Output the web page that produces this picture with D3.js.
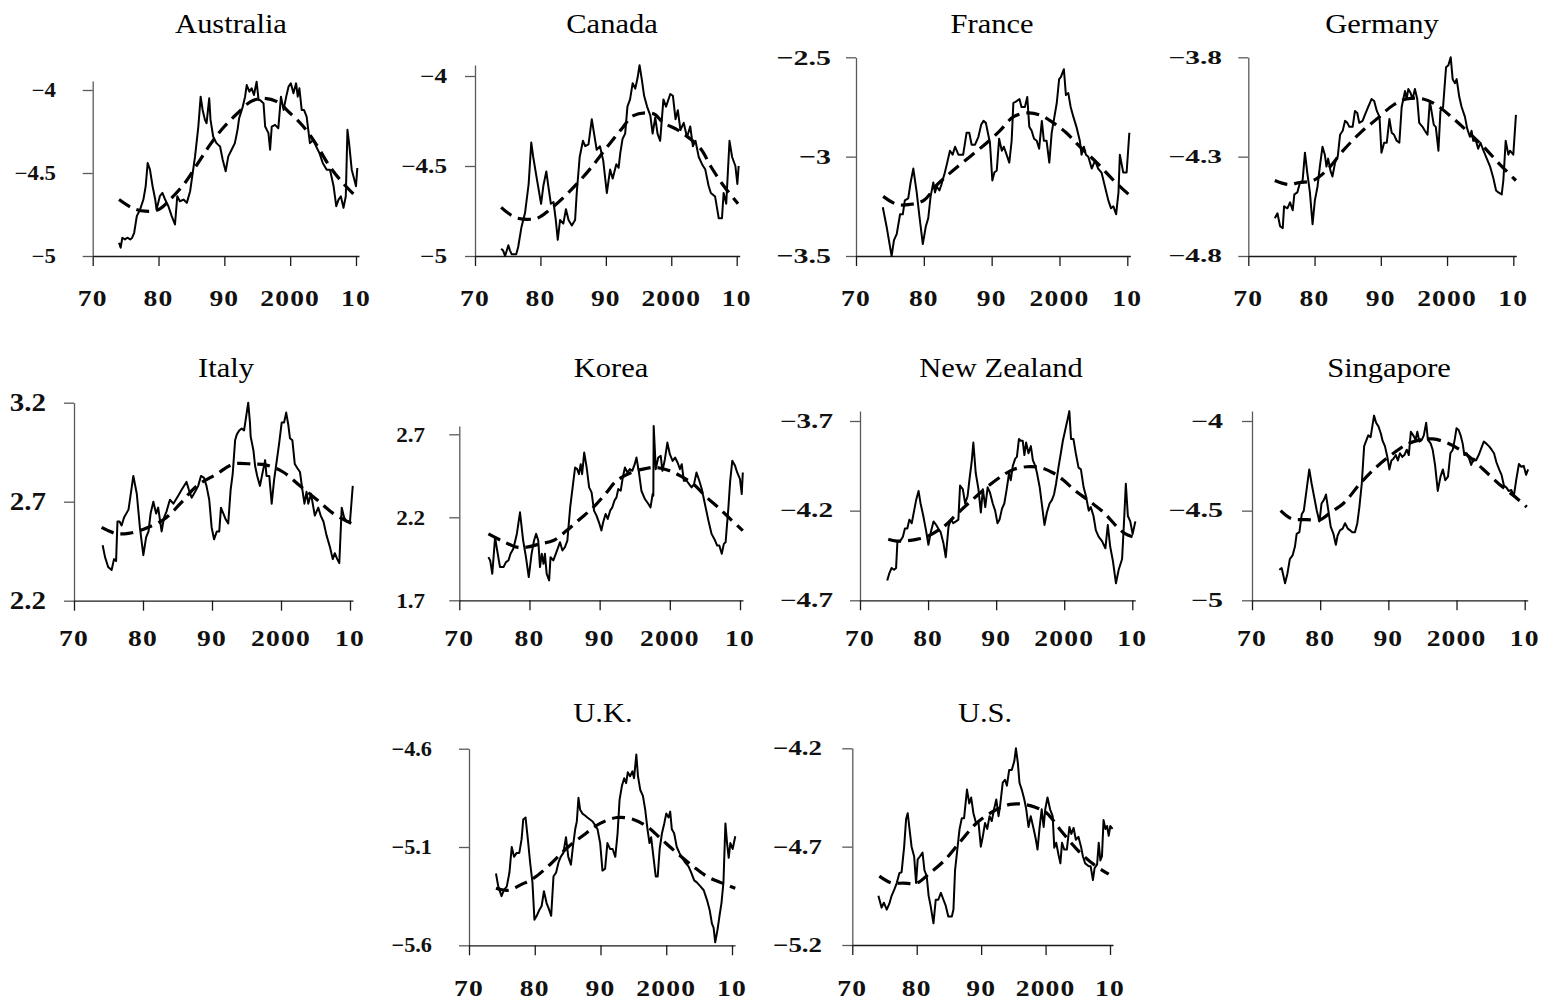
<!DOCTYPE html>
<html>
<head>
<meta charset="utf-8">
<script src="https://cdn.jsdelivr.net/npm/d3@7"></script>
<style>
  html, body { margin: 0; padding: 0; background: #fff; }
  svg { display: block; }
</style>
</head>
<body>
<svg id="chart" width="1547" height="1003"></svg>
<script>
// ---------------- DATA ----------------
const countries = ["Australia", "Canada", "France", "Germany", "Italy", "Korea", "New Zealand", "Singapore", "U.K.", "U.S."];
const xTickYears = [1970, 1980, 1990, 2000, 2010];
const xTickLabels = ["70", "80", "90", "2000", "10"];

const australiaTicks = [-5, -4.5, -4];
const canadaTicks = [-5, -4.5, -4];
const franceTicks = [-3.5, -3, -2.5];
const germanyTicks = [-4.8, -4.3, -3.8];
const italyTicks = [2.2, 2.7, 3.2];
const koreaTicks = [1.7, 2.2, 2.7];
const newZealandTicks = [-4.7, -4.2, -3.7];
const singaporeTicks = [-5, -4.5, -4];
const ukTicks = [-5.6, -5.1, -4.6];
const usTicks = [-5.2, -4.7, -4.2];

const australiaActual = [[1974.0,-4.92],[1974.25,-4.95],[1974.5,-4.89],[1974.9,-4.90],[1975.25,-4.89],[1975.7,-4.90],[1976.0,-4.89],[1976.3,-4.86],[1976.7,-4.76],[1977.2,-4.72],[1977.7,-4.66],[1978.05,-4.58],[1978.35,-4.44],[1978.7,-4.48],[1979.1,-4.58],[1979.5,-4.66],[1979.7,-4.72],[1980.2,-4.64],[1980.6,-4.62],[1981.0,-4.66],[1981.5,-4.70],[1982.0,-4.76],[1982.5,-4.81],[1982.85,-4.64],[1983.25,-4.67],[1983.8,-4.66],[1984.3,-4.68],[1984.8,-4.61],[1985.05,-4.54],[1985.55,-4.40],[1986.05,-4.22],[1986.4,-4.04],[1986.7,-4.12],[1987.05,-4.18],[1987.3,-4.20],[1987.7,-4.05],[1987.9,-4.18],[1988.3,-4.28],[1988.8,-4.32],[1989.35,-4.34],[1989.75,-4.42],[1990.2,-4.49],[1990.6,-4.40],[1991.1,-4.36],[1991.6,-4.32],[1992.0,-4.24],[1992.25,-4.17],[1992.8,-4.10],[1993.15,-4.04],[1993.4,-3.97],[1993.8,-4.01],[1994.15,-3.99],[1994.5,-4.03],[1994.9,-3.95],[1995.2,-4.06],[1995.4,-4.06],[1995.95,-4.08],[1996.2,-4.22],[1996.7,-4.26],[1996.95,-4.36],[1997.2,-4.22],[1997.7,-4.21],[1998.2,-4.23],[1998.6,-4.04],[1999.0,-4.12],[1999.4,-4.04],[1999.75,-3.98],[2000.1,-3.96],[2000.5,-4.02],[2000.9,-3.96],[2001.15,-4.04],[2001.4,-3.99],[2001.75,-4.12],[2002.1,-4.12],[2002.5,-4.16],[2003.0,-4.32],[2003.55,-4.30],[2003.95,-4.34],[2004.45,-4.38],[2004.95,-4.44],[2005.55,-4.48],[2006.05,-4.48],[2006.6,-4.58],[2007.0,-4.70],[2007.35,-4.66],[2007.7,-4.64],[2008.1,-4.71],[2008.45,-4.64],[2008.7,-4.24],[2008.95,-4.32],[2009.35,-4.48],[2009.75,-4.54],[2010.0,-4.58],[2010.2,-4.47]];
const australiaTrend = [[1974,-4.66],[1976,-4.71],[1978,-4.73],[1980,-4.72],[1982,-4.65],[1984,-4.56],[1986,-4.44],[1988,-4.32],[1990,-4.22],[1992,-4.14],[1994,-4.07],[1996,-4.05],[1998,-4.07],[2000,-4.14],[2002,-4.22],[2004,-4.33],[2006,-4.46],[2008,-4.56],[2010.2,-4.65]];

const canadaActual = [[1974.0,-4.96],[1974.3,-4.97],[1974.6,-5.00],[1975.1,-4.94],[1975.35,-4.97],[1975.6,-4.99],[1976.3,-4.99],[1976.6,-4.95],[1977.1,-4.84],[1977.65,-4.76],[1978.2,-4.60],[1978.6,-4.37],[1978.9,-4.45],[1979.4,-4.56],[1980.1,-4.71],[1980.45,-4.61],[1980.9,-4.53],[1981.2,-4.61],[1981.6,-4.71],[1982.0,-4.70],[1982.35,-4.80],[1982.65,-4.91],[1983.0,-4.80],[1983.5,-4.82],[1983.9,-4.74],[1984.3,-4.80],[1984.8,-4.83],[1985.3,-4.80],[1985.55,-4.65],[1986.0,-4.45],[1986.5,-4.36],[1986.85,-4.39],[1987.35,-4.38],[1987.85,-4.24],[1988.2,-4.32],[1988.6,-4.41],[1989.1,-4.39],[1989.6,-4.47],[1990.15,-4.65],[1990.65,-4.52],[1991.05,-4.57],[1991.6,-4.49],[1991.95,-4.51],[1992.2,-4.43],[1992.55,-4.35],[1992.95,-4.32],[1993.3,-4.17],[1993.7,-4.13],[1994.1,-4.04],[1994.5,-4.07],[1994.85,-4.01],[1995.15,-3.94],[1995.5,-4.02],[1995.85,-4.11],[1996.3,-4.17],[1996.8,-4.22],[1997.15,-4.32],[1997.55,-4.23],[1997.9,-4.32],[1998.3,-4.36],[1998.8,-4.13],[1999.2,-4.17],[1999.85,-4.10],[2000.25,-4.11],[2000.65,-4.24],[2001.0,-4.19],[2001.4,-4.30],[2001.9,-4.26],[2002.4,-4.34],[2002.9,-4.28],[2003.3,-4.39],[2003.7,-4.36],[2004.2,-4.45],[2004.7,-4.49],[2005.2,-4.52],[2005.7,-4.61],[2006.05,-4.65],[2006.7,-4.67],[2007.25,-4.79],[2007.75,-4.79],[2008.0,-4.65],[2008.4,-4.71],[2008.9,-4.36],[2009.3,-4.45],[2009.8,-4.50],[2010.1,-4.60],[2010.3,-4.50]];
const canadaTrend = [[1974,-4.73],[1975,-4.76],[1976.5,-4.79],[1979.5,-4.79],[1981.5,-4.74],[1984.5,-4.64],[1987.5,-4.52],[1990.5,-4.38],[1992.5,-4.29],[1994.2,-4.22],[1997.3,-4.21],[1998.8,-4.26],[2001,-4.30],[2004.4,-4.40],[2006,-4.50],[2008,-4.61],[2010.2,-4.71]];

const franceActual = [[1973.95,-3.255],[1974.5,-3.35],[1975.0,-3.45],[1975.25,-3.50],[1975.6,-3.42],[1976.0,-3.39],[1976.5,-3.29],[1976.9,-3.29],[1977.2,-3.22],[1977.7,-3.21],[1978.05,-3.13],[1978.45,-3.06],[1978.95,-3.18],[1979.35,-3.30],[1979.85,-3.44],[1980.3,-3.35],[1980.65,-3.31],[1981.0,-3.20],[1981.4,-3.13],[1981.65,-3.18],[1981.9,-3.15],[1982.3,-3.17],[1982.6,-3.14],[1983.1,-3.08],[1983.45,-3.03],[1983.85,-2.97],[1984.25,-2.99],[1984.6,-2.95],[1985.1,-2.99],[1985.8,-2.99],[1986.3,-2.88],[1986.7,-2.88],[1987.05,-2.94],[1987.55,-2.94],[1988.05,-2.90],[1988.45,-2.84],[1988.8,-2.82],[1989.15,-2.83],[1989.5,-2.89],[1989.75,-2.93],[1990.1,-3.12],[1990.4,-3.08],[1990.75,-3.07],[1991.1,-2.91],[1991.5,-2.97],[1991.8,-2.95],[1992.2,-2.99],[1992.6,-3.03],[1992.95,-2.92],[1993.2,-2.73],[1993.7,-2.72],[1994.1,-2.71],[1994.4,-2.75],[1994.9,-2.75],[1995.25,-2.70],[1995.55,-2.85],[1995.9,-2.87],[1996.25,-2.91],[1996.65,-2.92],[1997.0,-2.96],[1997.4,-2.82],[1997.7,-2.92],[1998.1,-2.92],[1998.5,-3.03],[1998.85,-2.88],[1999.2,-2.81],[1999.6,-2.73],[1999.95,-2.61],[2000.2,-2.60],[2000.65,-2.56],[2000.95,-2.69],[2001.3,-2.68],[2001.65,-2.75],[2002.05,-2.80],[2002.5,-2.85],[2003.0,-2.92],[2003.25,-2.99],[2003.6,-2.95],[2003.9,-2.99],[2004.25,-3.00],[2004.75,-3.06],[2005.25,-3.02],[2005.7,-3.06],[2006.2,-3.08],[2006.7,-3.15],[2007.2,-3.22],[2007.6,-3.26],[2007.95,-3.25],[2008.35,-3.29],[2008.7,-3.18],[2008.9,-2.99],[2009.4,-3.08],[2009.9,-3.08],[2010.3,-2.88]];
const franceTrend = [[1974,-3.20],[1976,-3.24],[1978,-3.24],[1980,-3.22],[1982,-3.14],[1984.3,-3.07],[1986.8,-3.00],[1989.3,-2.93],[1991.2,-2.87],[1993.2,-2.80],[1995.2,-2.78],[1997.1,-2.79],[1999.1,-2.83],[2001,-2.88],[2003,-2.95],[2005.5,-3.03],[2008,-3.12],[2010.2,-3.19]];

const germanyActual = [[1974.0,-4.61],[1974.4,-4.585],[1974.8,-4.65],[1975.2,-4.66],[1975.4,-4.55],[1975.9,-4.56],[1976.3,-4.53],[1976.7,-4.57],[1976.95,-4.49],[1977.4,-4.48],[1977.8,-4.43],[1978.2,-4.42],[1978.55,-4.28],[1978.9,-4.38],[1979.3,-4.48],[1979.7,-4.64],[1980.05,-4.52],[1980.45,-4.45],[1980.8,-4.35],[1981.2,-4.25],[1981.55,-4.29],[1981.8,-4.35],[1982.05,-4.31],[1982.4,-4.37],[1982.7,-4.40],[1983.1,-4.33],[1983.5,-4.30],[1983.85,-4.19],[1984.25,-4.17],[1984.6,-4.12],[1984.95,-4.13],[1985.25,-4.15],[1985.75,-4.15],[1986.1,-4.07],[1986.45,-4.08],[1986.75,-4.13],[1987.25,-4.12],[1987.6,-4.09],[1988.1,-4.05],[1988.6,-4.01],[1989.0,-4.02],[1989.4,-4.07],[1989.8,-4.10],[1990.1,-4.28],[1990.5,-4.23],[1990.9,-4.23],[1991.3,-4.11],[1991.65,-4.18],[1992.0,-4.19],[1992.4,-4.22],[1992.8,-4.23],[1993.15,-4.05],[1993.4,-4.01],[1993.65,-3.97],[1993.9,-4.01],[1994.15,-3.96],[1994.5,-3.98],[1994.8,-4.01],[1995.15,-3.96],[1995.5,-4.01],[1995.8,-4.13],[1996.3,-4.15],[1996.65,-4.17],[1997.05,-4.19],[1997.4,-4.02],[1997.65,-4.07],[1998.0,-4.14],[1998.3,-4.15],[1998.7,-4.27],[1999.0,-4.07],[1999.4,-4.05],[1999.85,-3.85],[2000.2,-3.84],[2000.55,-3.80],[2000.85,-3.91],[2001.2,-3.93],[2001.45,-3.91],[2001.85,-4.00],[2002.2,-4.05],[2002.7,-4.10],[2003.05,-4.16],[2003.45,-4.20],[2003.7,-4.17],[2003.95,-4.22],[2004.35,-4.22],[2004.7,-4.26],[2005.05,-4.23],[2005.5,-4.27],[2006.0,-4.31],[2006.5,-4.35],[2007.0,-4.41],[2007.4,-4.47],[2007.75,-4.48],[2008.25,-4.49],[2008.5,-4.42],[2008.85,-4.22],[2009.25,-4.29],[2009.5,-4.27],[2010.0,-4.29],[2010.4,-4.09]];
const germanyTrend = [[1974,-4.42],[1976,-4.44],[1977.8,-4.43],[1979.8,-4.42],[1981.8,-4.37],[1984.3,-4.27],[1986.9,-4.18],[1989.4,-4.11],[1991.9,-4.04],[1993.9,-4.01],[1996.4,-4.01],[1998.4,-4.04],[2001,-4.11],[2003,-4.17],[2005.5,-4.25],[2008,-4.34],[2010.4,-4.42]];

const italyActual = [[1974.15,2.48],[1974.5,2.42],[1974.95,2.37],[1975.45,2.355],[1975.8,2.41],[1976.1,2.40],[1976.3,2.60],[1976.6,2.60],[1976.9,2.58],[1977.25,2.62],[1977.9,2.66],[1978.6,2.83],[1979.1,2.74],[1979.55,2.57],[1980.05,2.43],[1980.45,2.52],[1980.8,2.55],[1981.1,2.64],[1981.5,2.70],[1981.9,2.64],[1982.2,2.67],[1982.7,2.55],[1983.05,2.62],[1983.4,2.65],[1983.9,2.71],[1984.4,2.69],[1984.75,2.71],[1985.1,2.73],[1985.6,2.76],[1986.3,2.80],[1986.65,2.76],[1987.05,2.72],[1987.55,2.75],[1988.0,2.78],[1988.4,2.83],[1988.85,2.82],[1989.2,2.78],[1989.6,2.71],[1989.95,2.57],[1990.3,2.51],[1990.7,2.55],[1991.05,2.55],[1991.3,2.67],[1991.65,2.64],[1992.0,2.61],[1992.35,2.59],[1992.7,2.76],[1993.0,2.84],[1993.35,3.01],[1993.6,3.04],[1993.95,3.06],[1994.3,3.07],[1994.65,3.06],[1994.95,3.13],[1995.25,3.20],[1995.5,3.10],[1995.6,3.03],[1996.0,2.96],[1996.25,2.88],[1996.55,2.83],[1996.95,2.78],[1997.35,2.85],[1997.7,2.91],[1997.9,2.83],[1998.3,2.83],[1998.65,2.69],[1999.0,2.81],[1999.4,2.91],[1999.75,3.00],[2000.1,3.10],[2000.45,3.10],[2000.75,3.15],[2001.05,3.09],[2001.3,3.02],[2001.65,3.01],[2002.0,2.89],[2002.35,2.87],[2002.75,2.85],[2003.1,2.76],[2003.4,2.69],[2003.7,2.75],[2003.95,2.69],[2004.35,2.74],[2004.7,2.67],[2004.9,2.63],[2005.4,2.67],[2005.75,2.63],[2006.15,2.60],[2006.6,2.53],[2007.1,2.47],[2007.5,2.41],[2007.8,2.44],[2008.15,2.41],[2008.45,2.39],[2008.8,2.67],[2009.15,2.62],[2009.5,2.60],[2010.0,2.60],[2010.4,2.78]];
const italyTrend = [[1974,2.57],[1976,2.54],[1977.9,2.54],[1980,2.56],[1983,2.61],[1985.4,2.69],[1987.8,2.78],[1990.7,2.84],[1993.1,2.89],[1996,2.89],[1997.9,2.885],[2000.3,2.85],[2002.75,2.78],[2005.2,2.71],[2007.6,2.64],[2010.2,2.59]];

const koreaActual = [[1974.15,1.96],[1974.4,1.94],[1974.7,1.86],[1975.1,2.08],[1975.4,2.00],[1975.8,1.90],[1976.3,1.90],[1976.65,1.93],[1977.0,1.94],[1977.3,1.98],[1977.7,2.01],[1978.2,2.10],[1978.65,2.23],[1979.1,2.06],[1979.5,1.96],[1979.9,1.84],[1980.3,1.98],[1980.65,2.06],[1980.95,2.10],[1981.25,2.06],[1981.5,1.90],[1981.75,1.98],[1982.0,1.92],[1982.2,1.98],[1982.45,1.86],[1982.8,1.82],[1983.0,1.96],[1983.4,1.94],[1983.75,1.98],[1984.1,2.02],[1984.35,2.05],[1984.7,2.00],[1985.05,2.02],[1985.4,2.06],[1985.8,2.26],[1986.15,2.38],[1986.5,2.50],[1986.8,2.49],[1987.05,2.46],[1987.3,2.52],[1987.5,2.46],[1987.8,2.59],[1988.15,2.50],[1988.5,2.38],[1988.85,2.35],[1989.2,2.24],[1989.55,2.21],[1989.9,2.17],[1990.25,2.12],[1990.5,2.17],[1990.85,2.22],[1991.15,2.19],[1991.5,2.24],[1991.8,2.26],[1992.1,2.30],[1992.4,2.32],[1992.65,2.37],[1993.0,2.36],[1993.3,2.44],[1993.6,2.50],[1993.95,2.47],[1994.3,2.49],[1994.65,2.48],[1995.0,2.52],[1995.25,2.56],[1995.6,2.47],[1995.95,2.36],[1996.45,2.31],[1996.95,2.28],[1997.25,2.26],[1997.55,2.34],[1997.65,2.33],[1997.7,2.75],[1998.0,2.49],[1998.35,2.56],[1998.7,2.57],[1998.95,2.48],[1999.3,2.55],[1999.65,2.65],[2000.0,2.58],[2000.4,2.54],[2000.75,2.56],[2001.1,2.53],[2001.45,2.49],[2001.7,2.52],[2002.0,2.42],[2002.4,2.42],[2002.75,2.40],[2003.1,2.38],[2003.45,2.40],[2003.8,2.47],[2004.2,2.42],[2004.55,2.37],[2005.0,2.28],[2005.5,2.18],[2005.95,2.10],[2006.45,2.06],[2006.75,2.03],[2007.05,2.03],[2007.4,1.98],[2007.7,2.04],[2007.95,2.05],[2008.35,2.26],[2008.6,2.42],[2008.9,2.54],[2009.3,2.51],[2009.6,2.47],[2010.0,2.43],[2010.25,2.34],[2010.4,2.47]];
const koreaTrend = [[1974.15,2.10],[1976,2.06],[1978.2,2.02],[1979.6,2.02],[1981.5,2.04],[1983.4,2.06],[1985.3,2.12],[1987.2,2.19],[1989.1,2.26],[1991,2.35],[1992.4,2.42],[1994.8,2.475],[1996.7,2.495],[1998.1,2.50],[2000,2.48],[2001.5,2.45],[2003.35,2.40],[2005.25,2.32],[2007.15,2.25],[2008.6,2.19],[2010.4,2.12]];

const newZealandActual = [[1974.0,-4.59],[1974.3,-4.55],[1974.65,-4.52],[1975.0,-4.53],[1975.3,-4.52],[1975.5,-4.37],[1975.9,-4.37],[1976.3,-4.345],[1976.6,-4.30],[1976.95,-4.30],[1977.25,-4.25],[1977.6,-4.27],[1977.95,-4.20],[1978.25,-4.14],[1978.6,-4.09],[1978.9,-4.16],[1979.3,-4.23],[1979.7,-4.31],[1980.05,-4.39],[1980.4,-4.32],[1980.8,-4.26],[1981.2,-4.28],[1981.5,-4.30],[1981.85,-4.32],[1982.25,-4.38],[1982.6,-4.46],[1983.0,-4.29],[1983.35,-4.25],[1983.7,-4.27],[1984.1,-4.26],[1984.45,-4.25],[1984.7,-4.06],[1985.1,-4.08],[1985.45,-4.16],[1985.8,-4.12],[1986.1,-4.02],[1986.4,-3.93],[1986.65,-3.82],[1987.0,-3.99],[1987.4,-4.08],[1987.75,-4.21],[1988.05,-4.08],[1988.4,-4.18],[1988.75,-4.07],[1989.1,-4.10],[1989.5,-4.16],[1989.85,-4.20],[1990.2,-4.27],[1990.5,-4.25],[1990.85,-4.19],[1991.2,-4.16],[1991.55,-4.08],[1991.9,-3.99],[1992.15,-4.03],[1992.45,-3.95],[1992.8,-3.91],[1993.05,-3.90],[1993.35,-3.80],[1993.6,-3.81],[1993.9,-3.81],[1994.15,-3.89],[1994.4,-3.82],[1994.75,-3.88],[1995.1,-3.84],[1995.4,-3.92],[1995.75,-3.95],[1996.0,-3.99],[1996.4,-4.07],[1996.7,-4.16],[1997.1,-4.28],[1997.45,-4.21],[1997.85,-4.16],[1998.2,-4.14],[1998.5,-4.11],[1998.8,-4.05],[1999.15,-3.96],[1999.5,-3.88],[1999.8,-3.81],[2000.15,-3.75],[2000.5,-3.69],[2000.75,-3.645],[2001.0,-3.80],[2001.35,-3.80],[2001.7,-3.88],[2002.1,-3.96],[2002.45,-3.97],[2002.85,-4.07],[2003.2,-4.12],[2003.6,-4.20],[2003.9,-4.18],[2004.3,-4.23],[2004.65,-4.31],[2005.05,-4.345],[2005.55,-4.37],[2006.05,-4.41],[2006.4,-4.28],[2006.75,-4.40],[2007.15,-4.48],[2007.6,-4.605],[2008.0,-4.53],[2008.5,-4.47],[2008.8,-4.25],[2009.05,-4.05],[2009.35,-4.23],[2009.7,-4.26],[2010.05,-4.33],[2010.45,-4.26]];
const newZealandTrend = [[1974.15,-4.36],[1975.4,-4.37],[1978.3,-4.36],[1979.8,-4.345],[1982.25,-4.29],[1984.2,-4.22],[1986.2,-4.15],[1988.6,-4.07],[1991.1,-4.00],[1992.55,-3.97],[1994.5,-3.955],[1996.5,-3.96],[1998.4,-3.99],[1999.9,-4.03],[2001.35,-4.08],[2003.8,-4.15],[2005.8,-4.21],[2007.75,-4.29],[2009,-4.33],[2010.4,-4.35]];

const singaporeActual = [[1974.0,-4.83],[1974.35,-4.82],[1974.85,-4.905],[1975.2,-4.85],[1975.55,-4.77],[1975.95,-4.75],[1976.3,-4.70],[1976.55,-4.63],[1976.95,-4.62],[1977.3,-4.52],[1977.6,-4.50],[1978.0,-4.385],[1978.4,-4.27],[1978.75,-4.35],[1979.1,-4.42],[1979.5,-4.50],[1979.9,-4.56],[1980.2,-4.46],[1980.55,-4.44],[1980.85,-4.41],[1981.2,-4.50],[1981.55,-4.59],[1981.95,-4.63],[1982.3,-4.69],[1982.55,-4.64],[1982.9,-4.61],[1983.3,-4.60],[1983.65,-4.57],[1984.05,-4.60],[1984.4,-4.61],[1984.7,-4.62],[1985.1,-4.62],[1985.45,-4.57],[1985.75,-4.48],[1986.1,-4.35],[1986.45,-4.14],[1986.7,-4.115],[1987.05,-4.08],[1987.4,-4.09],[1987.9,-3.97],[1988.2,-4.01],[1988.55,-4.03],[1988.9,-4.07],[1989.15,-4.11],[1989.5,-4.14],[1989.85,-4.20],[1990.15,-4.27],[1990.45,-4.22],[1990.75,-4.21],[1991.1,-4.19],[1991.4,-4.22],[1991.7,-4.18],[1992.05,-4.20],[1992.35,-4.19],[1992.7,-4.16],[1993.0,-4.19],[1993.3,-4.06],[1993.65,-4.08],[1994.0,-4.105],[1994.25,-4.06],[1994.55,-4.115],[1994.9,-4.105],[1995.2,-4.08],[1995.55,-4.01],[1995.8,-4.105],[1996.2,-4.125],[1996.5,-4.16],[1996.85,-4.245],[1997.25,-4.39],[1997.65,-4.31],[1998.0,-4.27],[1998.35,-4.33],[1998.75,-4.31],[1999.1,-4.18],[1999.45,-4.16],[1999.75,-4.10],[2000.0,-4.04],[2000.3,-4.05],[2000.6,-4.08],[2000.9,-4.125],[2001.15,-4.19],[2001.5,-4.18],[2001.85,-4.21],[2002.15,-4.245],[2002.5,-4.21],[2002.85,-4.22],[2003.25,-4.19],[2003.65,-4.15],[2004.0,-4.115],[2004.35,-4.125],[2004.75,-4.14],[2005.15,-4.16],[2005.5,-4.18],[2005.85,-4.23],[2006.25,-4.27],[2006.6,-4.30],[2006.95,-4.36],[2007.3,-4.37],[2007.65,-4.39],[2008.05,-4.385],[2008.4,-4.42],[2008.75,-4.33],[2009.15,-4.24],[2009.5,-4.255],[2009.85,-4.25],[2010.2,-4.30],[2010.5,-4.27]];
const singaporeTrend = [[1974.2,-4.50],[1975.8,-4.545],[1978.0,-4.55],[1980.0,-4.55],[1981.7,-4.505],[1983.4,-4.46],[1985.85,-4.35],[1988.3,-4.255],[1990.75,-4.18],[1992.7,-4.13],[1994.65,-4.105],[1996.5,-4.10],[1998.5,-4.12],[2000.5,-4.16],[2002.5,-4.22],[2004.5,-4.29],[2006.5,-4.36],[2008.5,-4.42],[2010.3,-4.48]];

const ukActual = [[1974.1,-5.235],[1974.45,-5.30],[1974.95,-5.35],[1975.3,-5.32],[1975.75,-5.30],[1976.15,-5.23],[1976.5,-5.10],[1976.85,-5.15],[1977.25,-5.13],[1977.65,-5.13],[1978.0,-5.06],[1978.25,-4.96],[1978.6,-4.95],[1978.95,-5.06],[1979.3,-5.18],[1979.65,-5.28],[1979.95,-5.47],[1980.3,-5.45],[1980.7,-5.42],[1981.05,-5.40],[1981.4,-5.325],[1981.8,-5.385],[1982.2,-5.42],[1982.5,-5.45],[1982.85,-5.25],[1983.25,-5.23],[1983.6,-5.18],[1983.95,-5.15],[1984.35,-5.13],[1984.75,-5.05],[1985.1,-5.15],[1985.5,-5.19],[1985.8,-5.10],[1986.15,-5.01],[1986.4,-4.97],[1986.65,-4.85],[1986.9,-4.91],[1987.25,-4.93],[1987.65,-4.94],[1988.0,-4.95],[1988.4,-4.96],[1988.8,-4.97],[1989.2,-4.99],[1989.55,-5.01],[1989.95,-5.08],[1990.3,-5.22],[1990.7,-5.21],[1991.05,-5.08],[1991.45,-5.11],[1991.85,-5.11],[1992.25,-5.15],[1992.6,-5.03],[1992.9,-4.86],[1993.25,-4.79],[1993.6,-4.75],[1993.9,-4.775],[1994.15,-4.72],[1994.5,-4.74],[1994.85,-4.715],[1995.1,-4.75],[1995.45,-4.63],[1995.7,-4.74],[1996.05,-4.81],[1996.45,-4.84],[1996.8,-4.91],[1997.15,-5.01],[1997.45,-5.08],[1997.7,-5.05],[1998.05,-5.15],[1998.4,-5.25],[1998.7,-5.25],[1999.0,-5.11],[1999.35,-5.03],[1999.7,-4.98],[2000.0,-4.93],[2000.35,-4.95],[2000.6,-4.92],[2000.85,-5.01],[2001.2,-5.03],[2001.6,-5.10],[2002.0,-5.13],[2002.4,-5.155],[2002.9,-5.18],[2003.4,-5.20],[2003.8,-5.23],[2004.25,-5.27],[2004.65,-5.28],[2005.2,-5.30],[2005.7,-5.32],[2006.2,-5.37],[2006.6,-5.42],[2006.95,-5.49],[2007.2,-5.51],[2007.45,-5.585],[2007.8,-5.52],[2008.1,-5.45],[2008.4,-5.385],[2008.7,-5.28],[2009.0,-4.98],[2009.25,-5.08],[2009.5,-5.155],[2009.75,-5.08],[2010.1,-5.11],[2010.5,-5.045]];
const ukTrend = [[1974.1,-5.31],[1976,-5.32],[1978,-5.29],[1979.8,-5.26],[1982.3,-5.19],[1984.9,-5.105],[1987.4,-5.04],[1989.95,-4.98],[1992.5,-4.95],[1995,-4.96],[1997.05,-4.995],[1999.1,-5.055],[2001.6,-5.13],[2004.15,-5.20],[2006.2,-5.25],[2008.2,-5.28],[2010.5,-5.31]];

const usActual = [[1974.05,-4.95],[1974.55,-5.01],[1974.9,-4.985],[1975.35,-5.02],[1975.75,-4.99],[1976.1,-4.95],[1976.5,-4.92],[1976.9,-4.885],[1977.3,-4.835],[1977.65,-4.83],[1978.05,-4.70],[1978.35,-4.56],[1978.6,-4.53],[1978.95,-4.63],[1979.2,-4.70],[1979.6,-4.75],[1979.9,-4.885],[1980.15,-4.765],[1980.5,-4.75],[1980.9,-4.73],[1981.2,-4.82],[1981.55,-4.85],[1981.85,-4.95],[1982.15,-5.00],[1982.6,-5.09],[1982.95,-4.97],[1983.35,-4.97],[1983.75,-4.935],[1984.15,-4.97],[1984.5,-5.00],[1984.9,-5.055],[1985.45,-5.055],[1985.7,-5.02],[1985.95,-4.82],[1986.3,-4.715],[1986.65,-4.61],[1987.0,-4.555],[1987.35,-4.555],[1987.8,-4.41],[1988.15,-4.48],[1988.45,-4.45],[1988.8,-4.53],[1989.2,-4.58],[1989.6,-4.58],[1989.95,-4.70],[1990.25,-4.65],[1990.6,-4.58],[1990.95,-4.61],[1991.3,-4.545],[1991.65,-4.57],[1992.0,-4.51],[1992.35,-4.46],[1992.7,-4.545],[1992.95,-4.49],[1993.35,-4.375],[1993.7,-4.36],[1994.0,-4.39],[1994.35,-4.31],[1994.75,-4.31],[1995.15,-4.265],[1995.4,-4.20],[1995.7,-4.275],[1995.95,-4.375],[1996.3,-4.41],[1996.7,-4.46],[1997.0,-4.51],[1997.35,-4.60],[1997.7,-4.545],[1998.15,-4.61],[1998.5,-4.665],[1998.75,-4.715],[1999.05,-4.61],[1999.4,-4.51],[1999.7,-4.60],[1999.95,-4.51],[2000.3,-4.45],[2000.7,-4.51],[2001.1,-4.545],[2001.35,-4.705],[2001.65,-4.68],[2002.0,-4.74],[2002.3,-4.785],[2002.55,-4.68],[2002.9,-4.715],[2003.3,-4.715],[2003.7,-4.60],[2004.0,-4.635],[2004.35,-4.605],[2004.7,-4.665],[2005.1,-4.65],[2005.5,-4.70],[2005.8,-4.75],[2006.15,-4.785],[2006.7,-4.80],[2007.0,-4.80],[2007.35,-4.87],[2007.6,-4.81],[2008.0,-4.79],[2008.25,-4.68],[2008.5,-4.77],[2008.75,-4.75],[2009.0,-4.565],[2009.3,-4.61],[2009.55,-4.595],[2009.8,-4.645],[2010.05,-4.595],[2010.4,-4.61]];
const usTrend = [[1974.2,-4.85],[1976.1,-4.885],[1977.9,-4.885],[1980,-4.885],[1982,-4.835],[1984.15,-4.775],[1986.75,-4.675],[1989.3,-4.58],[1991.9,-4.52],[1994.5,-4.485],[1996.6,-4.485],[1998.4,-4.50],[2000.2,-4.53],[2002.3,-4.615],[2004.9,-4.715],[2007.45,-4.79],[2009.8,-4.84]];

const actualSeries = [australiaActual, canadaActual, franceActual, germanyActual, italyActual, koreaActual, newZealandActual, singaporeActual, ukActual, usActual];
const trendSeries = [australiaTrend, canadaTrend, franceTrend, germanyTrend, italyTrend, koreaTrend, newZealandTrend, singaporeTrend, ukTrend, usTrend];
const tickSeries = [australiaTicks, canadaTicks, franceTicks, germanyTicks, italyTicks, koreaTicks, newZealandTicks, singaporeTicks, ukTicks, usTicks];

// ---------------- LAYOUT (pixel geometry of each panel) ----------------
const layout = [
  {left:92.7,  right:356,    bottom:256,   topTick:90,    axisTop:81,    labelRight:56,   fs:20, sx:1.14, titleX:231,  titleY:33,  xlabY:306},
  {left:475,   right:736.7,  bottom:256,   topTick:76,    axisTop:65,    labelRight:447,  fs:20, sx:1.26, titleX:612,  titleY:33,  xlabY:306},
  {left:856,   right:1127.3, bottom:256,   topTick:57.3,  axisTop:57.3,  labelRight:831,  fs:22, sx:1.36, titleX:992,  titleY:33,  xlabY:306},
  {left:1248.3,right:1513.3, bottom:256,   topTick:57.3,  axisTop:57.3,  labelRight:1222, fs:19, sx:1.55, titleX:1382, titleY:33,  xlabY:306},
  {left:74,    right:350,    bottom:600.7, topTick:402.7, axisTop:402.7, labelRight:46,   fs:25, sx:1.16, titleX:226,  titleY:377, xlabY:646},
  {left:459.3, right:740,    bottom:600.3, topTick:434.3, axisTop:426,   labelRight:425,  fs:22, sx:1.05, titleX:611,  titleY:377, xlabY:646},
  {left:860,   right:1132.3, bottom:600.3, topTick:421,   axisTop:411,   labelRight:833,  fs:20, sx:1.46, titleX:1001, titleY:377, xlabY:646},
  {left:1252,  right:1524.7, bottom:600.3, topTick:421,   axisTop:411,   labelRight:1223, fs:20, sx:1.5,  titleX:1389, titleY:377, xlabY:646},
  {left:469,   right:732,    bottom:945.3, topTick:748.7, axisTop:748.7, labelRight:432,  fs:21, sx:1.06, titleX:603,  titleY:722, xlabY:996},
  {left:852.3, right:1110,   bottom:945,   topTick:748.3, axisTop:748,   labelRight:822,  fs:21, sx:1.28, titleX:985,  titleY:722, xlabY:996}
];

// ---------------- DRAW ----------------
const svg = d3.select("#chart");
const serif = "'Liberation Serif', 'Times New Roman', Times, serif";
const fmtTick = v => d3.format("")(v);

countries.forEach((name, i) => {
  const L = layout[i];
  const ticks = tickSeries[i];
  const g = svg.append("g").attr("class", "panel");

  const x = d3.scaleLinear().domain([xTickYears[0], xTickYears[xTickYears.length - 1]]).range([L.left, L.right]);
  const y = d3.scaleLinear().domain([ticks[0], ticks[ticks.length - 1]]).range([L.bottom, L.topTick]);

  const xAxisScale = x.copy().domain([x.domain()[0], x.invert(L.right + 3)]).range([L.left, L.right + 3]);
  const yAxisScale = y.copy().domain([y.domain()[0], y.invert(L.axisTop)]).range([L.bottom, L.axisTop]);

  const yAxis = g.append("g").attr("transform", `translate(${L.left},0)`)
    .call(d3.axisLeft(yAxisScale).tickValues(ticks).tickSize(10).tickSizeOuter(0).tickFormat(""));
  yAxis.selectAll("path, line").attr("stroke", "#5a5a5a").attr("stroke-width", 1.3);

  const xAxis = g.append("g").attr("transform", `translate(0,${L.bottom})`)
    .call(d3.axisBottom(xAxisScale).tickValues(xTickYears).tickSize(10).tickSizeOuter(0).tickFormat(""));
  xAxis.selectAll("path, line").attr("stroke", "#1a1a1a").attr("stroke-width", 1.3);

  // y tick labels
  g.selectAll("text.ylab").data(ticks).enter().append("text")
    .attr("class", "ylab")
    .attr("transform", d => `translate(${L.labelRight},${y(d) + L.fs * 0.34}) scale(${L.sx},1)`)
    .attr("text-anchor", "end")
    .attr("font-family", serif).attr("font-weight", "bold").attr("font-size", L.fs)
    .attr("fill", "#111")
    .text(fmtTick);

  // x tick labels
  g.selectAll("text.xlab").data(xTickYears).enter().append("text")
    .attr("class", "xlab")
    .attr("transform", d => `translate(${x(d)},${L.xlabY}) scale(1.15,1)`)
    .attr("text-anchor", "middle")
    .attr("font-family", serif).attr("font-weight", "bold").attr("font-size", 24)
    .attr("letter-spacing", "1px")
    .attr("fill", "#111")
    .text((d, k) => xTickLabels[k]);

  // title
  g.append("text")
    .attr("transform", `translate(${L.titleX},${L.titleY}) scale(1.13,1)`)
    .attr("text-anchor", "middle")
    .attr("font-family", serif).attr("font-size", 27)
    .attr("fill", "#000")
    .text(name);

  // trend (dashed)
  const trendLine = d3.line().x(d => x(d[0])).y(d => y(d[1])).curve(d3.curveCatmullRom.alpha(0.5));
  g.append("path").datum(trendSeries[i])
    .attr("d", trendLine)
    .attr("fill", "none").attr("stroke", "#000").attr("stroke-width", 3.2)
    .attr("stroke-dasharray", "13,7");

  // actual (solid)
  const actLine = d3.line().x(d => x(d[0])).y(d => y(d[1]));
  g.append("path").datum(actualSeries[i])
    .attr("d", actLine)
    .attr("fill", "none").attr("stroke", "#000").attr("stroke-width", 2)
    .attr("stroke-linejoin", "round");
});
</script>
</body>
</html>
